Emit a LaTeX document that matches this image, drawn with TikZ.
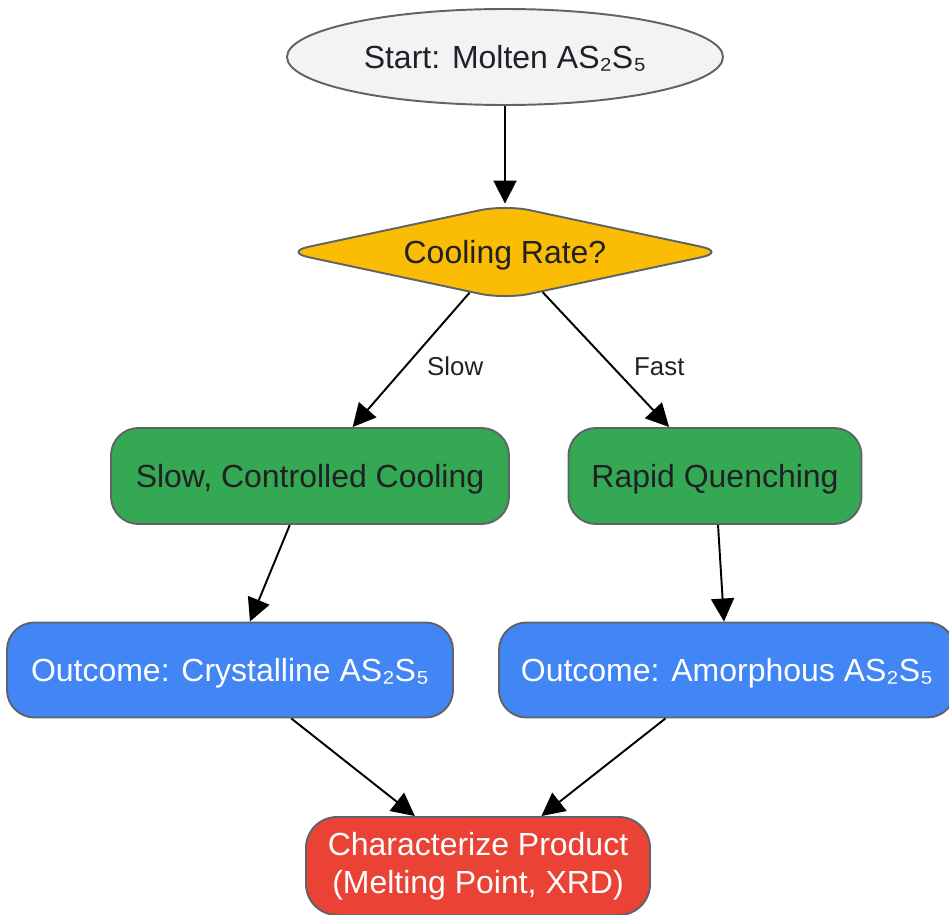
\documentclass[tikz,border=0pt]{standalone}
\usepackage{fontspec}
\setmainfont{Liberation Sans}
\usetikzlibrary{positioning, shapes.geometric, arrows.meta}
\definecolor{startgray}{HTML}{F1F3F4}
\definecolor{bordergray}{HTML}{5F6368}
\definecolor{decisionyellow}{HTML}{FBBC04}
\definecolor{processgreen}{HTML}{34A853}
\definecolor{outcomeblue}{HTML}{4285F4}
\definecolor{finalred}{HTML}{EA4335}
\definecolor{textdark}{HTML}{202124}

\begin{document}
\begin{tikzpicture}[-{Triangle[length=0.46cm,width=0.46cm]}, node distance = 4cm and 4cm, on grid, line width=1.1pt, font=\fontsize{18.2}{21.6}\selectfont]
			\useasboundingbox (0,0) rectangle (18.98,-18.3);
			\node [ellipse, fill=startgray, draw=bordergray, text=textdark, minimum width=8.72cm, minimum height=1.92cm, inner sep=0pt, text height=0.46cm, text depth=0pt] (Start) at (10.1,-1.14) {Start: Molten AS₂S₅};
			\node [diamond, aspect=4.66, fill=decisionyellow, draw=bordergray, text=textdark, minimum width=8.85cm, minimum height=1.9cm, inner sep=0pt, rounded corners=0.5cm, text height=0.46cm, text depth=0pt] (Rate) [below =3.9cm of Start] {Cooling Rate?};
			\node [rectangle, rounded corners=0.55cm, fill=processgreen, draw=bordergray, text=textdark, minimum width=7.96cm, minimum height=1.92cm, text height=0.46cm, text depth=0pt] (SlowCool) [below left =4.48cm and 3.9cm of Rate] {Slow, Controlled Cooling};
			\node [rectangle, rounded corners=0.55cm, fill=processgreen, draw=bordergray, text=textdark, minimum width=5.86cm, minimum height=1.92cm, text height=0.46cm, text depth=0pt] (Quench) [below right =4.48cm and 4.2cm of Rate] {Rapid Quenching};
			\node [rectangle, rounded corners=0.55cm, fill=outcomeblue, draw=bordergray, text=white, minimum width=8.92cm, minimum height=1.9cm, text height=0.46cm, text depth=0pt] (Crystal) [below left =3.88cm and 1.6cm of SlowCool] {Outcome: Crystalline AS₂S₅};
			\node [rectangle, rounded corners=0.55cm, fill=outcomeblue, draw=bordergray, text=white, minimum width=9.12cm, minimum height=1.9cm, text height=0.46cm, text depth=0pt] (Amorph) [below right =3.88cm and 0.24cm of Quench] {Outcome: Amorphous AS₂S₅};
			\node [rectangle, rounded corners=0.62cm, fill=finalred, draw=bordergray, text=white, minimum width=6.88cm, minimum height=1.96cm, align=center] (Product) [below right =3.92cm and 4.96cm of Crystal] {Characterize Product\\(Melting Point, XRD)};
			\path (Start) edge (Rate);
			\path (Rate) edge node [pos=0.55, right=0.42cm, inner sep=0pt, text=textdark, font=\fontsize{14.7}{17}\selectfont] {Slow} (SlowCool);
			\path (Rate) edge node [pos=0.55, right=0.42cm, inner sep=0pt, text=textdark, font=\fontsize{14.7}{17}\selectfont] {Fast} (Quench);
			\path (SlowCool) edge (Crystal);
			\path (Quench) edge (Amorph);
			\path (Crystal) edge (Product);
			\path (Amorph) edge (Product);
		\end{tikzpicture}
\end{document}
